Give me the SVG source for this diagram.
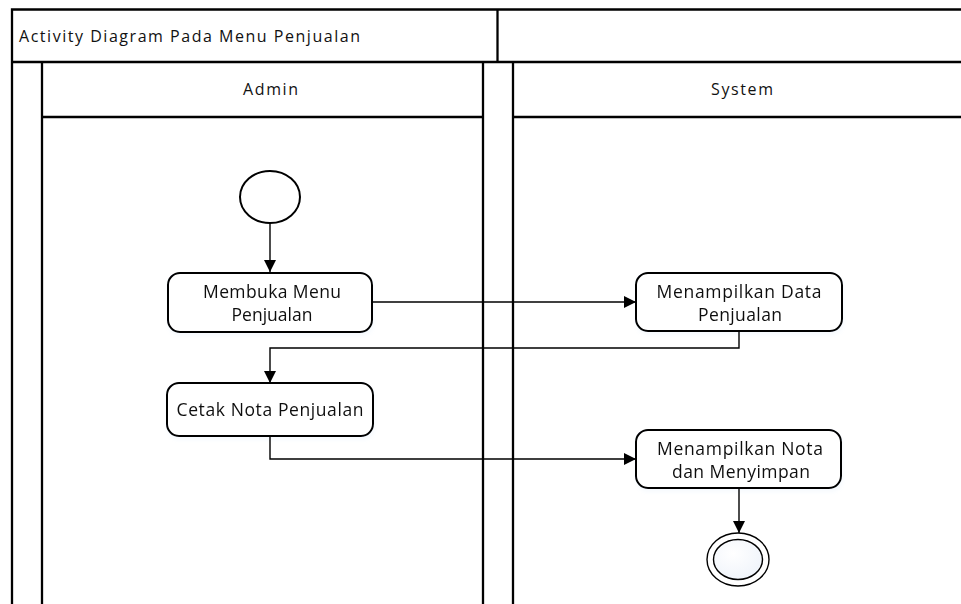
<svg xmlns="http://www.w3.org/2000/svg" width="961" height="604" viewBox="0 0 961 604">
  <style>
    .frame { fill: none; stroke: #000; stroke-width: 2.3; }
    .node { fill: #fff; stroke: #000; stroke-width: 2; }
    .conn { fill: none; stroke: #000; stroke-width: 1.4; }
    .lbl { font-family: "Open Sans", "Liberation Sans", sans-serif; font-size: 17.5px; fill: #111; text-anchor: middle; }
    .hdr { font-family: "Open Sans", "Liberation Sans", sans-serif; font-size: 16px; fill: #111; }
  </style>
  <defs>
    <marker id="arrow" viewBox="0 0 12 12" refX="12" refY="6" markerWidth="12" markerHeight="12" markerUnits="userSpaceOnUse" orient="auto">
      <path d="M0,0 L12,6 L0,12 Z" fill="#000"/>
    </marker>
    <filter id="soft" x="-10%" y="-10%" width="130%" height="140%">
      <feGaussianBlur in="SourceAlpha" stdDeviation="2"/>
      <feOffset dx="1" dy="3"/>
      <feComponentTransfer><feFuncA type="linear" slope="0.15"/></feComponentTransfer>
      <feColorMatrix type="matrix" values="0 0 0 0 0.55  0 0 0 0 0.7  0 0 0 0 0.9  0 0 0 1 0"/>
      <feMerge><feMergeNode/><feMergeNode in="SourceGraphic"/></feMerge>
    </filter>
    <radialGradient id="endFill" cx="0.4" cy="0.35" r="0.75">
      <stop offset="0" stop-color="#ffffff"/>
      <stop offset="1" stop-color="#eef3fa"/>
    </radialGradient>
  </defs>

  <rect width="961" height="604" fill="#fff"/>

  <!-- pool frame and swimlanes -->
  <g id="pool">
    <path class="frame" d="M12,604 V9.5 H961"/>
    <path class="frame" d="M12,62 H961"/>
    <path class="frame" d="M497.5,9.5 V62"/>
    <text class="hdr" x="19" y="42" textLength="341" lengthAdjust="spacing">Activity Diagram Pada Menu Penjualan</text>
  </g>
  <g id="lane-admin">
    <path class="frame" d="M42,62 V604"/>
    <path class="frame" d="M483,62 V604"/>
    <path class="frame" d="M42,117 H483"/>
    <text class="hdr" x="243" y="95" textLength="55" lengthAdjust="spacing">Admin</text>
  </g>
  <g id="lane-system">
    <path class="frame" d="M513,62 V604"/>
    <path class="frame" d="M513,117 H961"/>
    <text class="hdr" x="711" y="95" textLength="62" lengthAdjust="spacing">System</text>
  </g>

  <!-- activity nodes -->
  <g id="start">
    <ellipse class="node" cx="270" cy="197" rx="30" ry="26"/>
  </g>
  <g id="membuka-menu" filter="url(#soft)">
    <rect class="node" x="168" y="273" width="204" height="59" rx="12"/>
    <text class="lbl" x="272" y="298" textLength="138" lengthAdjust="spacing">Membuka Menu</text>
    <text class="lbl" x="272" y="321" textLength="81" lengthAdjust="spacing">Penjualan</text>
  </g>
  <g id="tampil-data" filter="url(#soft)">
    <rect class="node" x="636" y="273" width="206" height="58" rx="12"/>
    <text class="lbl" x="739" y="298" textLength="165" lengthAdjust="spacing">Menampilkan Data</text>
    <text class="lbl" x="740" y="321" textLength="84" lengthAdjust="spacing">Penjualan</text>
  </g>
  <g id="cetak-nota" filter="url(#soft)">
    <rect class="node" x="167" y="383" width="206" height="53" rx="12"/>
    <text class="lbl" x="270" y="416" textLength="187" lengthAdjust="spacing">Cetak Nota Penjualan</text>
  </g>
  <g id="tampil-nota" filter="url(#soft)">
    <rect class="node" x="636" y="430" width="205" height="58" rx="12"/>
    <text class="lbl" x="740" y="455" textLength="166" lengthAdjust="spacing">Menampilkan Nota</text>
    <text class="lbl" x="741" y="478" textLength="138" lengthAdjust="spacing">dan Menyimpan</text>
  </g>
  <g id="end">
    <ellipse cx="738" cy="559.5" rx="31" ry="26.5" fill="#fff" stroke="#000" stroke-width="1.4"/>
    <ellipse cx="738" cy="559.5" rx="24.5" ry="20" fill="url(#endFill)" stroke="#000" stroke-width="1.4"/>
  </g>

  <!-- control flows -->
  <g id="connectors">
    <path class="conn" stroke-width="2" d="M270,223 V272" marker-end="url(#arrow)"/>
    <path class="conn" d="M372,302 H636" marker-end="url(#arrow)"/>
    <path class="conn" d="M739,331 V348 H270 V383" marker-end="url(#arrow)"/>
    <path class="conn" d="M270,436 V459 H636" marker-end="url(#arrow)"/>
    <path class="conn" stroke-width="2" d="M739,488 V533" marker-end="url(#arrow)"/>
  </g>
</svg>
